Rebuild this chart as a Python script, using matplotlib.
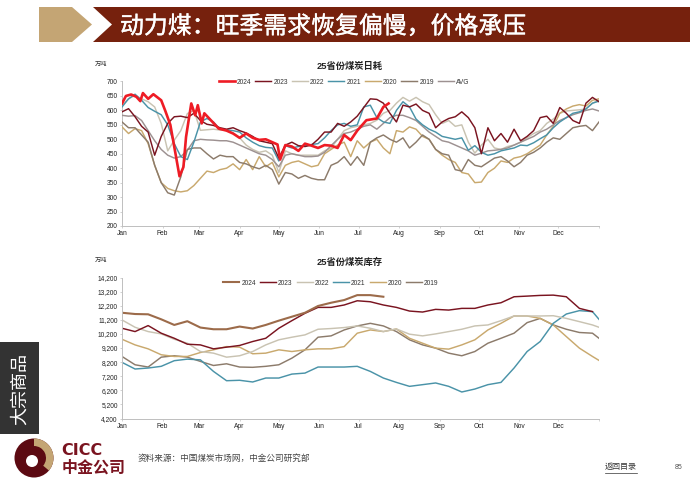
import numpy as np
import matplotlib
matplotlib.use('Agg')
import matplotlib.pyplot as plt
import matplotlib.patheffects as pe
from matplotlib.patches import Polygon, Rectangle, Circle, Wedge

plt.rcParams['font.family'] = ['Liberation Sans', 'Noto Sans CJK SC', 'DejaVu Sans']

months = ['Jan', 'Feb', 'Mar', 'Apr', 'May', 'Jun', 'Jul', 'Aug', 'Sep', 'Oct', 'Nov', 'Dec', '']
month_days = [0, 31, 59, 90, 120, 151, 181, 212, 243, 273, 304, 334, 365]

# daily burn, 5 day steps
burn_days = list(range(0, 370, 5))
burn_2024_days = [0, 3, 7, 11, 14, 16, 20, 24, 30, 33, 37, 40, 44, 47, 49, 53, 56, 58, 61, 63,
                  68, 74, 80, 85, 90, 95, 100, 105, 110, 115, 119, 121, 125, 130, 135, 140,
                  145, 150, 155, 160, 165, 170, 175, 180, 187, 195, 200, 204]
burn_2024 = [624, 650, 655, 647, 632, 660, 640, 656, 635, 600, 550, 474, 372, 404, 508, 624, 583, 618, 555, 590,
             566, 537, 530, 520, 505, 520, 505, 498, 500, 490, 482, 430, 480, 475, 460, 485,
             478, 470, 480, 478, 470, 515, 497, 530, 566, 572, 612, 624]
burn_2023 = [595, 606, 578, 545, 525, 445, 510, 555, 578, 580,
             575, 590, 565, 552, 548, 540, 535, 540, 530, 522,
             510, 495, 490, 485, 435, 480, 490, 478, 475, 480,
             500, 525, 525, 555, 545, 560, 580, 610, 640, 638,
             625, 590, 560, 618, 612, 622, 600, 590, 540, 560,
             572, 578, 595, 575, 540, 450, 540, 495, 520, 490,
             535, 495, 510, 530, 575, 580, 555, 610, 590, 565,
             555, 625, 645, 630]
burn_2022 = [618, 640, 652, 640, 630, 612, 555, 460, 497, 530,
             589, 600, 531, 533, 535, 532, 531, 522, 505, 480,
             465, 455, 460, 445, 385, 460, 450, 445, 445, 445,
             445, 460, 470, 500, 530, 540, 545, 550, 555, 566,
             590, 600, 625, 645, 632, 645, 630, 620, 585, 555,
             565, 545, 550, 490, 452, 480, 500, 470, 465, 475,
             480, 490, 505, 520, 530, 555, 570, 590, 598, 600,
             602, 605, 625, 635]
burn_2021 = [612, 640, 656, 635, 610, 597, 585, 550, 485, 440,
             430, 490, 560, 572, 560, 535, 533, 530, 525, 505,
             490, 478, 472, 470, 425, 478, 470, 475, 478, 482,
             485, 505, 530, 550, 555, 545, 550, 612, 618, 575,
             560, 555, 600, 630, 612, 570, 550, 535, 525, 510,
             505, 500, 505, 462, 478, 455, 445, 450, 460, 465,
             470, 480, 478, 488, 502, 515, 540, 560, 575, 590,
             595, 605, 625, 632]
burn_2020 = [543, 520, 537, 530, 485, 410, 350, 330, 322, 318,
             322, 340, 365, 390, 385, 395, 400, 415, 395, 430,
             395, 440, 405, 420, 370, 410, 420, 425, 415, 405,
             410, 450, 465, 480, 490, 440, 495, 470, 490, 500,
             470, 450, 530, 525, 543, 535, 510, 500, 465, 445,
             430, 420, 385, 380, 350, 352, 385, 400, 425, 420,
             435, 440, 450, 465, 480, 515, 545, 590, 605, 615,
             620, 615, 635, 640]
burn_2019 = [560, 540, 540, 515, 490, 410, 350, 315, 307, 370,
             465, 470, 470, 450, 432, 445, 440, 440, 420, 415,
             405, 398, 410, 395, 345, 385, 380, 365, 375, 365,
             360, 360, 410, 420, 440, 410, 440, 410, 490, 505,
             515, 500, 490, 505, 470, 490, 515, 500, 465, 450,
             445, 395, 390, 430, 410, 405, 420, 435, 440, 425,
             405, 420, 445, 455, 470, 490, 505, 500, 520, 540,
             545, 548, 530, 560]
burn_avg = [583, 580, 582, 565, 530, 495, 465, 445, 435, 440,
            462, 495, 500, 498, 497, 495, 495, 490, 480, 470,
            460, 450, 445, 430, 405, 445, 450, 445, 440, 440,
            442, 455, 478, 500, 520, 525, 535, 545, 550, 535,
            555, 575, 583, 583, 575, 565, 545, 525, 510, 495,
            490, 480, 470, 460, 445, 452, 460, 462, 465, 470,
            480, 490, 500, 510, 525, 535, 550, 565, 575, 585,
            592, 600, 605, 598]

# stock, 10 day steps
stock_days = list(range(0, 370, 10)) + [365]
stock_2024 = [11700, 11610, 11590, 11235, 10835, 11100, 10650, 10530, 10530, 10720,
              10580, 10835, 11140, 11420, 11700, 12180, 12410, 12600, 12950, 12950,
              12835]
stock_2023 = [10600, 10365, 10790, 10250, 9890, 9470, 9420, 9140, 9260, 9380,
              9660, 9890, 10600, 11140, 11660, 12080, 12080, 12250, 12550, 12480,
              12250, 12080, 11820, 11750, 11940, 11890, 12010, 12010, 12250, 12410,
              12835, 12880, 12930, 12950, 12835, 12010, 11780]
stock_2022 = [11190, 10670, 10365, 10200, 9820, 9540, 8950, 8835, 8550, 8650,
              8950, 9420, 9780, 9965, 10130, 10530, 10580, 10650, 10765, 10600,
              10365, 10550, 10180, 10060, 10200, 10365, 10530, 10765, 10835, 11140,
              11470, 11470, 11470, 11490, 11300, 11070, 10835, 10670]
stock_2021 = [8180, 7710, 7780, 7900, 8300, 8410, 8360, 7540, 6880, 6910,
              6790, 7070, 7070, 7350, 7420, 7850, 7850, 7850, 7900, 7540,
              7070, 6760, 6480, 6600, 6720, 6480, 6080, 6290, 6600, 6760,
              7780, 8950, 9660, 10950, 11610, 11850, 11780, 11235]
stock_2020 = [9820, 9420, 9140, 8720, 8600, 8600, 8880, 9070, 9300, 9260,
              8790, 8835, 9070, 8950, 9070, 9140, 9140, 9300, 10250, 10480,
              10365, 10550, 9890, 9540, 9190, 9120, 9420, 9780, 10480, 10950,
              11470, 11470, 11300, 10835, 10010, 9190, 8600, 8320]
stock_2019 = [8600, 8010, 7850, 8550, 8650, 8550, 8250, 7960, 8080, 7850,
              7830, 7900, 8010, 8480, 9070, 9965, 10060, 10480, 10765, 10950,
              10765, 10365, 9780, 9420, 9190, 8835, 8650, 8950, 9540, 9890,
              10250, 11000, 11300, 10835, 10530, 10300, 10250, 9890]

c_red = '#ee1c25'
c_2023 = '#7a1420'
c_2022 = '#c9c3b2'
c_2021 = '#4a93a8'
c_2020 = '#c9a96e'
c_2019 = '#8c7b6b'
c_avg = '#9d9191'
c_stock24 = '#9c6b4a'
grey = '#bfbfbf'
W, H = 700, 490
line_w = 1.05


def make_axes(top, bottom):
    ax = fig.add_axes([122 / W, 1 - bottom / H, 477 / W, (bottom - top) / H])
    ax.set_xlim(0, 365)
    for s in ['top', 'right']:
        ax.spines[s].set_visible(False)
    for s in ['left', 'bottom']:
        ax.spines[s].set_color(grey)
        ax.spines[s].set_linewidth(0.7)
    ax.set_xticks(month_days)
    ax.set_xticklabels(months)
    ax.tick_params(axis='both', labelsize=4.8, length=1.5, width=0.5, color=grey, pad=1.5, labelcolor='#222222')
    return ax


def add_legend(ax, handles, labels, cx, cy):
    ax.legend(handles, labels, loc='center', bbox_to_anchor=(cx / W, 1 - cy / H), bbox_transform=fig.transFigure,
              ncol=7, frameon=False, fontsize=4.8, handlelength=2.4, handletextpad=0.3,
              columnspacing=0.6, borderpad=0, labelcolor='#333333')


fig = plt.figure(figsize=(7, 4.9), dpi=100)

# top chart
ax1 = make_axes(81.5, 226)
ax1.plot(burn_2024_days, burn_2024, color=c_red, lw=1.9, label='2024', zorder=9)
ax1.plot(burn_days, burn_2023, color=c_2023, lw=line_w, label='2023', zorder=8)
ax1.plot(burn_days, burn_2022, color=c_2022, lw=line_w, label='2022', zorder=3)
ax1.plot(burn_days, burn_2021, color=c_2021, lw=line_w, label='2021', zorder=6)
ax1.plot(burn_days, burn_2020, color=c_2020, lw=line_w, label='2020', zorder=4)
ax1.plot(burn_days, burn_2019, color=c_2019, lw=line_w, label='2019', zorder=5)
ax1.plot(burn_days, burn_avg, color=c_avg, lw=line_w, label='AVG', zorder=4)
ax1.set_ylim(200, 700)
ax1.set_yticks(range(200, 750, 50))
h, l = ax1.get_legend_handles_labels()
add_legend(ax1, h, l, 344, 82)

# bottom chart
ax2 = make_axes(277.5, 418.5)
ax2.plot(stock_days[:len(stock_2019)], stock_2019, color=c_2019, lw=line_w, label='2019')
ax2.plot(stock_days[:len(stock_2020)], stock_2020, color=c_2020, lw=line_w, label='2020')
ax2.plot(stock_days[:len(stock_2021)], stock_2021, color=c_2021, lw=line_w, label='2021')
ax2.plot(stock_days[:len(stock_2022)], stock_2022, color=c_2022, lw=line_w, label='2022')
ax2.plot(stock_days[:len(stock_2023)], stock_2023, color=c_2023, lw=line_w, label='2023')
ax2.plot(stock_days[:len(stock_2024)], stock_2024, color=c_stock24, lw=1.5, label='2024')
ax2.set_ylim(4200, 14200)
ax2.set_yticks(range(4200, 15200, 1000))
ax2.set_yticklabels([f'{v:,}' for v in range(4200, 15200, 1000)])
h, l = ax2.get_legend_handles_labels()
add_legend(ax2, h[::-1], l[::-1], 331, 283)

# page furniture, drawn in pixel coordinates
bg = fig.add_axes([0, 0, 1, 1], zorder=-1)
bg.set_xlim(0, W)
bg.set_ylim(H, 0)
bg.axis('off')
bg.add_patch(Polygon([(39, 7), (72, 7), (92, 24.5), (72, 42), (39, 42)], color='#c4a574', lw=0))
bg.add_patch(Polygon([(93, 7), (690, 7), (690, 42), (93, 42), (112, 24.5)], color='#76210d', lw=0))
bg.text(120, 27, '动力煤：旺季需求恢复偏慢，价格承压', color='white', fontsize=17.2, va='center', ha='left',
        path_effects=[pe.withStroke(linewidth=0.25, foreground='white')])

bg.add_patch(Rectangle((0, 342), 39, 92, color='#333333', lw=0))
bg.text(20, 389, '大宗商品', color='white', fontsize=13, rotation=90, va='center', ha='center')

bg.text(95, 64, '万吨', fontsize=4.5, va='center', color='#333333')
bg.text(95, 260, '万吨', fontsize=4.5, va='center', color='#333333')
bg.text(350, 66, '25省份煤炭日耗', fontsize=6.7, fontweight='bold', ha='center', va='center', color='#222222')
bg.text(350, 262.5, '25省份煤炭库存', fontsize=6.7, fontweight='bold', ha='center', va='center', color='#222222')

# logo (y axis is flipped here, so wedge angles run the other way)
bg.add_patch(Circle((34, 458), 19.5, color='#5c0a12', lw=0))
bg.add_patch(Wedge((34, 458), 19.5, -90, 40, width=7.5, color='#c4a574', lw=0))
bg.add_patch(Circle((32, 461), 6, color='white', lw=0))
bg.text(61.5, 450.5, 'CICC', family='DejaVu Sans', fontsize=11.5, fontweight='bold', color='#7a1420', va='center', ha='left')
bg.text(62, 467.5, '中金公司', fontsize=11.5, fontweight='bold', color='#7a1420', va='center', ha='left')

bg.text(138, 458, '资料来源：中国煤炭市场网，中金公司研究部', fontsize=6.2, color='#444444', va='center', ha='left')
bg.text(605, 467.5, '返回目录', fontsize=5.8, color='#333333', va='center', ha='left')
bg.plot([605, 637], [472.5, 472.5], color='#333333', lw=0.5)
bg.text(675, 467.5, '85', fontsize=5, color='#555555', va='center', ha='left')

fig.savefig('out.png', dpi=100)
